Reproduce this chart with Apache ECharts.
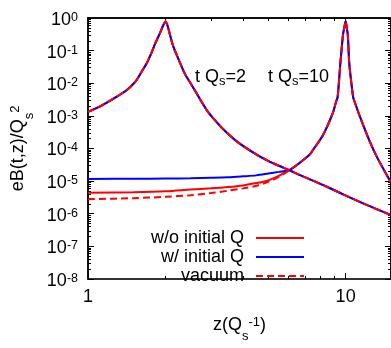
<!DOCTYPE html>
<html><head><meta charset="utf-8">
<script src="https://cdn.jsdelivr.net/npm/echarts@6/dist/echarts.min.js"></script>
<style>html,body{margin:0;padding:0;background:#fff}#c{width:391px;height:348px}</style>
</head><body><div id="c"></div>
<script>
// t Qs = 2 curve (identical for all three cases)
const Z2 = [1, 1.133, 1.313, 1.415, 1.524, 1.617, 1.69, 1.768, 1.82, 1.904, 1.96, 2.0, 2.04, 2.08, 2.14, 2.24, 2.38, 2.49, 2.6, 2.89, 3.06, 3.35, 3.8, 4.5, 5.0, 5.54, 6.06, 6.62, 7.24, 8.5, 9.73, 12, 15];
const B2 = [1.33e-3, 2.1e-3, 4.2e-3, 6.2e-3, 1.1e-2, 2.3e-2, 4.1e-2, 9e-2, 0.16, 0.35, 0.6, 0.78, 0.55, 0.31, 0.14, 0.057, 0.019, 0.0105, 6.0e-3, 1.5e-3, 8.5e-4, 3.9e-4, 1.6e-4, 6.6e-5, 4.2e-5, 2.9e-5, 2.15e-5, 1.55e-5, 1.15e-5, 6.6e-6, 4.0e-6, 1.9e-6, 9.1e-7];
// t Qs = 10 curve: low-z part differs by case
const Z10LOW = [1, 1.5, 2, 2.5, 3, 3.5, 4, 4.5, 5, 5.5];
const B10LOW_NOQ = [4.4e-6, 4.6e-6, 4.9e-6, 5.5e-6, 6.0e-6, 6.6e-6, 7.4e-6, 8.7e-6, 1.05e-5, 1.45e-5];
const B10LOW_WQ = [1.17e-5, 1.18e-5, 1.2e-5, 1.22e-5, 1.26e-5, 1.31e-5, 1.4e-5, 1.5e-5, 1.7e-5, 1.92e-5];
const B10LOW_VAC = [2.8e-6, 3.0e-6, 3.3e-6, 3.7e-6, 4.3e-6, 5.1e-6, 6.0e-6, 7.2e-6, 9.5e-6, 1.35e-5];
// t Qs = 10 curve: common high-z part
const Z10HIGH = [6.06, 6.62, 7.24, 7.46, 8.15, 8.91, 9.18, 9.31, 9.54, 9.77, 9.9, 10, 10.1, 10.2, 10.33, 10.64, 10.74, 12.0, 13.1, 14.8, 15];
const B10HIGH = [2.2e-5, 3.6e-5, 6.4e-5, 8.9e-5, 2.5e-4, 1.2e-3, 2.7e-3, 3.8e-3, 0.041, 0.31, 0.55, 0.8, 0.5, 0.3, 0.041, 5e-3, 3.3e-3, 3.1e-4, 6.4e-5, 1.1e-5, 9.5e-6];
// axis ticks / labels
const X_MAJOR = [1, 10];
const X_MINOR = [2, 3, 4, 5, 6, 7, 8, 9];
const Y_MAJOR = [1e-8, 1e-7, 1e-6, 1e-5, 1e-4, 1e-3, 1e-2, 1e-1, 1];
const Y_MINOR = [];
for (let e = -8; e < 0; e++) for (let k = 2; k <= 9; k++) Y_MINOR.push(Number((k * Math.pow(10, e)).toPrecision(3)));
const NAMES = ['w/o initial Q', 'w/ initial Q', 'vacuum'];

const zip = (xs, ys) => xs.map((x, i) => [x, ys[i]]);
const RED = '#ff0000', BLUE = '#0000ff';
const FONT = 'Liberation Sans, Arial, sans-serif';

function line(name, data, color, dashed) {
  return {
    type: 'line', name, data, showSymbol: false, symbol: 'none', smooth: 0.3,
    xAxisIndex: 0, yAxisIndex: 0, animation: false,
    lineStyle: { color, width: 2, type: dashed ? [7, 4] : 'solid' },
    itemStyle: { color }
  };
}

const series = [
  line(NAMES[0], zip(Z2, B2), RED, false),
  line(NAMES[0], zip(Z10LOW, B10LOW_NOQ).concat(zip(Z10HIGH, B10HIGH)), RED, false),
  line(NAMES[1], zip(Z2, B2), BLUE, false),
  line(NAMES[1], zip(Z10LOW, B10LOW_WQ).concat(zip(Z10HIGH, B10HIGH)), BLUE, false),
  line(NAMES[2], zip(Z2, B2), RED, true),
  line(NAMES[2], zip(Z10LOW, B10LOW_VAC).concat(zip(Z10HIGH, B10HIGH)), RED, true)
];

function xAx(pos, ticks, len, labels, lineW, lineC) {
  return {
    type: 'log', logBase: 10, min: 1, max: 15, position: pos, gridIndex: 0,
    axisLine: { show: true, onZero: false, lineStyle: { color: lineC || '#000', width: lineW || 1.5 } },
    axisTick: { show: true, inside: true, length: len, customValues: ticks, lineStyle: { color: '#000', width: 1 } },
    axisLabel: labels ? { show: true, customValues: X_MAJOR, fontSize: 18, fontFamily: FONT, color: '#000', margin: 9 } : { show: false },
    splitLine: { show: false }
  };
}
function yAx(pos, ticks, len, labels) {
  return {
    type: 'log', logBase: 10, min: 1e-8, max: 1, position: pos, gridIndex: 0,
    axisLine: { show: true, onZero: false, lineStyle: { color: '#000', width: 1.5 } },
    axisTick: { show: true, inside: true, length: len, customValues: ticks, lineStyle: { color: '#000', width: 1 } },
    axisLabel: labels ? {
      show: true, customValues: Y_MAJOR, margin: 10, color: '#000', padding: [4, 0, 0, 0],
      formatter: v => '{b|10}{s|' + Math.round(Math.log10(v)) + '}',
      rich: {
        b: { fontSize: 18, fontFamily: FONT, color: '#000', lineHeight: 18, verticalAlign: 'bottom' },
        s: { fontSize: 12.5, fontFamily: FONT, color: '#000', lineHeight: 12, verticalAlign: 'top' }
      }
    } : { show: false },
    splitLine: { show: false }
  };
}

const subsup = {
  sub: { fontSize: 13, fontFamily: FONT, color: '#000', verticalAlign: 'bottom', lineHeight: 12, padding: [0, 0, -9, 0] },
  sup: { fontSize: 13, fontFamily: FONT, color: '#000', verticalAlign: 'top', lineHeight: 13 }
};
const xAxes = [xAx('bottom', X_MAJOR, 6, true, 2, '#333'), xAx('bottom', X_MINOR, 3, false, 2, '#333'), xAx('top', X_MAJOR, 6, false), xAx('top', X_MINOR, 3, false)];
xAxes[0].name = 'z(Q{sub|s}{sup|-1})';
xAxes[0].nameLocation = 'middle';
xAxes[0].nameGap = 37;
xAxes[0].nameTextStyle = { fontSize: 18, fontFamily: FONT, color: '#000', rich: subsup };
const yAxes = [yAx('left', Y_MAJOR, 6, true), yAx('left', Y_MINOR, 3, false), yAx('right', Y_MAJOR, 6, false), yAx('right', Y_MINOR, 3, false)];
yAxes[0].name = 'eB(t,z)/Q{sub|s}{sup|2}';
yAxes[0].nameLocation = 'middle';
yAxes[0].nameRotate = 90;
yAxes[0].nameGap = 58;
yAxes[0].nameTextStyle = { fontSize: 18, fontFamily: FONT, color: '#000', rich: subsup };

const chart = echarts.init(document.getElementById('c'), null, { renderer: 'canvas' });
chart.setOption({
  backgroundColor: '#fff',
  animation: false,
  grid: { left: 88, top: 18, width: 304, height: 271, containLabel: false },
  xAxis: xAxes,
  yAxis: yAxes,
  legend: {
    data: NAMES, orient: 'vertical', align: 'right', right: 86, top: 229, padding: 0,
    itemWidth: 48, itemHeight: 10, itemGap: 1,
    itemStyle: { color: 'transparent', borderColor: 'transparent', borderWidth: 0, opacity: 0 },
    textStyle: { fontSize: 18, fontFamily: FONT, color: '#000', lineHeight: 18, padding: [0, 7, 0, 0] }
  },
  graphic: [
    { type: 'text', x: 195, y: 77, style: { text: 't Q{s|s}=2', font: '18px ' + FONT, fill: '#000', verticalAlign: 'middle',
      rich: { s: { fontSize: 13, fontFamily: FONT, fill: '#000', padding: [9, 0, 0, 0] } } } },
    { type: 'text', x: 268, y: 77, style: { text: 't Q{s|s}=10', font: '18px ' + FONT, fill: '#000', verticalAlign: 'middle',
      rich: { s: { fontSize: 13, fontFamily: FONT, fill: '#000', padding: [9, 0, 0, 0] } } } }
  ],
  series
});
</script></body></html>
